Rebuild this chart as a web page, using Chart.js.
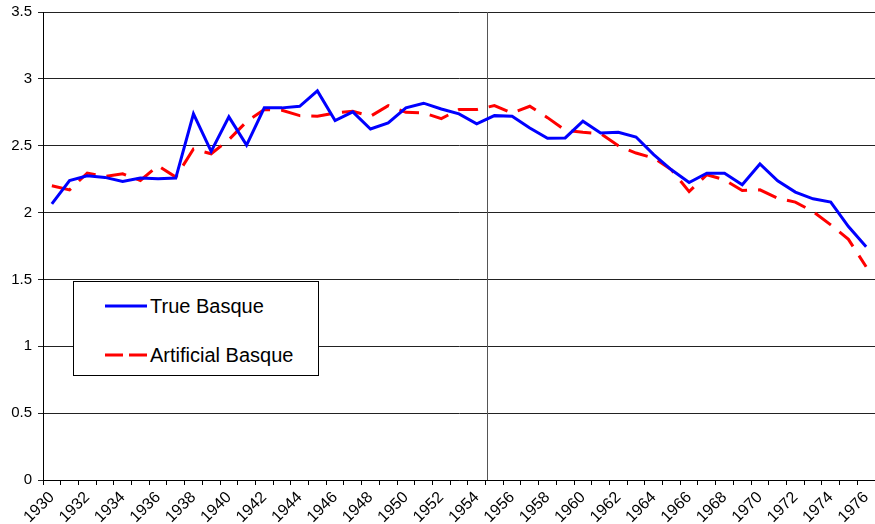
<!DOCTYPE html>
<html>
<head>
<meta charset="utf-8">
<script src="https://cdn.jsdelivr.net/npm/chart.js@4/dist/chart.umd.min.js"></script>
<style>
  body { margin: 0; background: #fff; }
  #wrap { position: relative; width: 875px; height: 524px; overflow: hidden; }
  #legend {
    position: absolute; left: 73px; top: 281px; width: 244px; height: 93px;
    border: 1px solid #000; background: #fff;
    font-family: "Liberation Sans", Arial, sans-serif; font-size: 20px; color: #000;
  }
  .row { position: absolute; left: 31px; height: 24px; display: flex; align-items: center; }
  .row svg { margin-right: 3px; }
</style>
</head>
<body>
<div id="wrap">
  <canvas id="chart" width="875" height="524"></canvas>
  <div id="legend">
    <div class="row" style="top:12px">
      <svg width="42" height="6"><line x1="0" y1="3" x2="42" y2="3" stroke="#0000ff" stroke-width="3"/></svg>True Basque
    </div>
    <div class="row" style="top:61px">
      <svg width="42" height="6"><line x1="0" y1="3" x2="42" y2="3" stroke="#ff0000" stroke-width="3" stroke-dasharray="18 6"/></svg>Artificial Basque
    </div>
  </div>
</div>
<script>
// ================= DATA =================
const years = [1930, 1931, 1932, 1933, 1934, 1935, 1936, 1937, 1938, 1939,
               1940, 1941, 1942, 1943, 1944, 1945, 1946, 1947, 1948, 1949,
               1950, 1951, 1952, 1953, 1954, 1955, 1956, 1957, 1958, 1959,
               1960, 1961, 1962, 1963, 1964, 1965, 1966, 1967, 1968, 1969,
               1970, 1971, 1972, 1973, 1974, 1975, 1976];

const trueBasque = [2.065, 2.24, 2.275, 2.263, 2.233, 2.258, 2.253, 2.258, 2.738, 2.458,
                    2.716, 2.505, 2.783, 2.783, 2.795, 2.91, 2.688, 2.753, 2.625, 2.67,
                    2.783, 2.818, 2.775, 2.738, 2.663, 2.725, 2.72, 2.633, 2.555, 2.558,
                    2.683, 2.595, 2.6, 2.565, 2.433, 2.32, 2.225, 2.295, 2.295, 2.208,
                    2.363, 2.238, 2.153, 2.103, 2.078, 1.895, 1.745];

const artificialBasque = [2.2, 2.17, 2.295, 2.27, 2.29, 2.24, 2.35, 2.265, 2.475, 2.44,
                          2.545, 2.68, 2.77, 2.765, 2.725, 2.72, 2.745, 2.757, 2.72, 2.8,
                          2.75, 2.745, 2.703, 2.77, 2.77, 2.8, 2.745, 2.795, 2.71, 2.615,
                          2.6, 2.59, 2.5, 2.445, 2.408, 2.32, 2.157, 2.283, 2.245, 2.165,
                          2.17, 2.108, 2.078, 2.008, 1.908, 1.8, 1.595];

const yTicks = [0, 0.5, 1, 1.5, 2, 2.5, 3, 3.5];

// vertical marker sits just before 1955
const markerIndex = 24.6;

// ================= CHART =================
const FONT = "'Liberation Sans', Arial, sans-serif";

const markerLine = {
  id: "markerLine",
  beforeDatasetsDraw(chart) {
    const { ctx, chartArea, scales } = chart;
    const x = Math.round(scales.x.getPixelForValue(markerIndex)) + 0.5;
    ctx.save();
    ctx.strokeStyle = "#555";
    ctx.lineWidth = 1;
    ctx.beginPath();
    ctx.moveTo(x, chartArea.top);
    ctx.lineTo(x, chartArea.bottom);
    ctx.stroke();
    ctx.restore();
  }
};

new Chart(document.getElementById("chart"), {
  type: "line",
  data: {
    labels: years,
    datasets: [
      {
        label: "True Basque",
        data: trueBasque,
        borderColor: "#0000ff",
        borderWidth: 3,
        pointRadius: 0,
        tension: 0
      },
      {
        label: "Artificial Basque",
        data: artificialBasque,
        borderColor: "#ff0000",
        borderWidth: 3,
        borderDash: [20, 11],
        pointRadius: 0,
        tension: 0
      }
    ]
  },
  options: {
    responsive: false,
    animation: false,
    events: [],
    layout: { padding: { top: 12, right: -3, left: 0, bottom: 0 } },
    plugins: { legend: { display: false }, tooltip: { enabled: false } },
    scales: {
      x: {
        type: "category",
        offset: true,
        afterFit(scale) {
          scale.height = 44;
          scale.paddingLeft = 0;
          scale.paddingRight = 0;
        },
        grid: { offset: true, drawOnChartArea: false, tickLength: 5, color: "#000" },
        border: { color: "#000", width: 1 },
        ticks: {
          autoSkip: false,
          minRotation: 45,
          maxRotation: 45,
          padding: 3,
          color: "#000",
          font: { family: FONT, size: 16 },
          callback: (v, i) => (years[i] % 2 === 0 ? String(years[i]) : "")
        }
      },
      y: {
        min: 0,
        max: 3.5,
        afterFit(scale) {
          scale.width = 43;
          scale.paddingTop = 0;
          scale.paddingBottom = 0;
        },
        afterBuildTicks(scale) { scale.ticks = yTicks.map(v => ({ value: v })); },
        grid: { color: "#222", tickLength: 5 },
        border: { color: "#000", width: 1 },
        ticks: {
          padding: 6,
          color: "#000",
          font: { family: FONT, size: 15 },
          callback: v => String(v)
        }
      }
    }
  },
  plugins: [markerLine]
});
</script>
</body>
</html>
